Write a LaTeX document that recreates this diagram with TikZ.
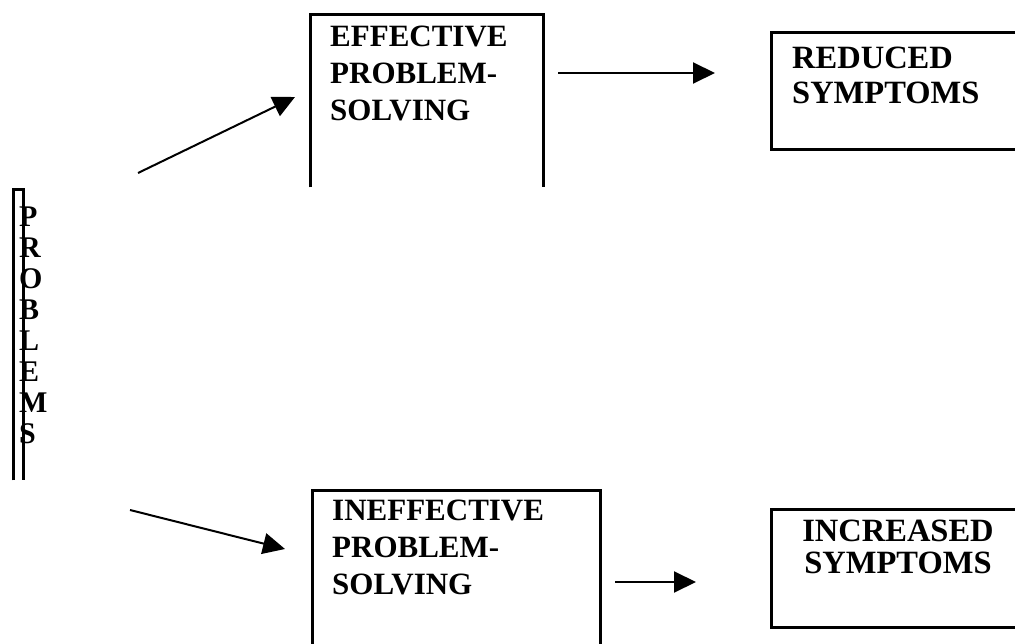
\documentclass[tikz,border=0pt]{standalone}
\usepackage{fontspec}
\setmainfont{Liberation Serif}
\usetikzlibrary{arrows.meta}
\begin{document}
\begin{tikzpicture}[x=1pt,y=-1pt,
  boxline/.style={line width=3pt},
  conn/.style={line width=2pt,-{Triangle[length=22pt,width=21pt]}},
  lbl/.style={inner sep=0pt,font=\bfseries\fontsize{31}{37}\selectfont,align=left,anchor=north west},
  hidden/.style={draw=none,inner sep=0pt,anchor=north west}]
\useasboundingbox (0,0) rectangle (1015,644);
\clip (0,0) rectangle (1015,644);
% boxes (outlines)
\node[hidden,minimum width=10pt,minimum height=290pt] (prob) at (13.5,190) {};
\draw[boxline] (prob.south west) -- (prob.north west) -- (prob.north east) -- (prob.south east);
\node[hidden,minimum width=233pt,minimum height=172pt] (eff) at (310,15) {};
\draw[boxline] (eff.south west) -- (eff.north west) -- (eff.north east) -- (eff.south east);
\node[hidden,minimum width=300pt,minimum height=116pt] (red) at (771,33) {};
\draw[boxline] (red.north east) -- (red.north west) -- (red.south west) -- (red.south east);
\node[hidden,minimum width=288pt,minimum height=200pt] (ineff) at (312,490) {};
\draw[boxline] (ineff.south west) -- (ineff.north west) -- (ineff.north east) -- (ineff.south east);
\node[hidden,minimum width=300pt,minimum height=118pt] (inc) at (771,509) {};
\draw[boxline] (inc.north east) -- (inc.north west) -- (inc.south west) -- (inc.south east);
% texts
\node[lbl,font=\bfseries\fontsize{30}{31}\selectfont] (tprob) at (19,207) {P\\R\\O\\B\\L\\E\\M\\S};
\node[lbl] (teff) at (330,26) {EFFECTIVE\\PROBLEM-\\SOLVING};
\node[lbl,font=\bfseries\fontsize{32.5}{35}\selectfont] (tred) at (792,47) {REDUCED\\SYMPTOMS};
\node[lbl] (tineff) at (332,500) {INEFFECTIVE\\PROBLEM-\\SOLVING};
\node[lbl,font=\bfseries\fontsize{32.5}{32}\selectfont,align=center,anchor=north] (tinc) at (898,520) {INCREASED\\SYMPTOMS};
% arrows
\coordinate (a1s) at (138,173);
\coordinate (a1e) at (295,97);
\coordinate (a2s) at (130,510);
\coordinate (a2e) at (285,549);
\coordinate (a3s) at (558,73);
\coordinate (a3e) at (715,73);
\coordinate (a4s) at (615,582);
\coordinate (a4e) at (696,582);
\draw[conn] (a1s) -- (a1e);
\draw[conn] (a2s) -- (a2e);
\draw[conn] (a3s) -- (a3e);
\draw[conn] (a4s) -- (a4e);
\end{tikzpicture}
\end{document}
